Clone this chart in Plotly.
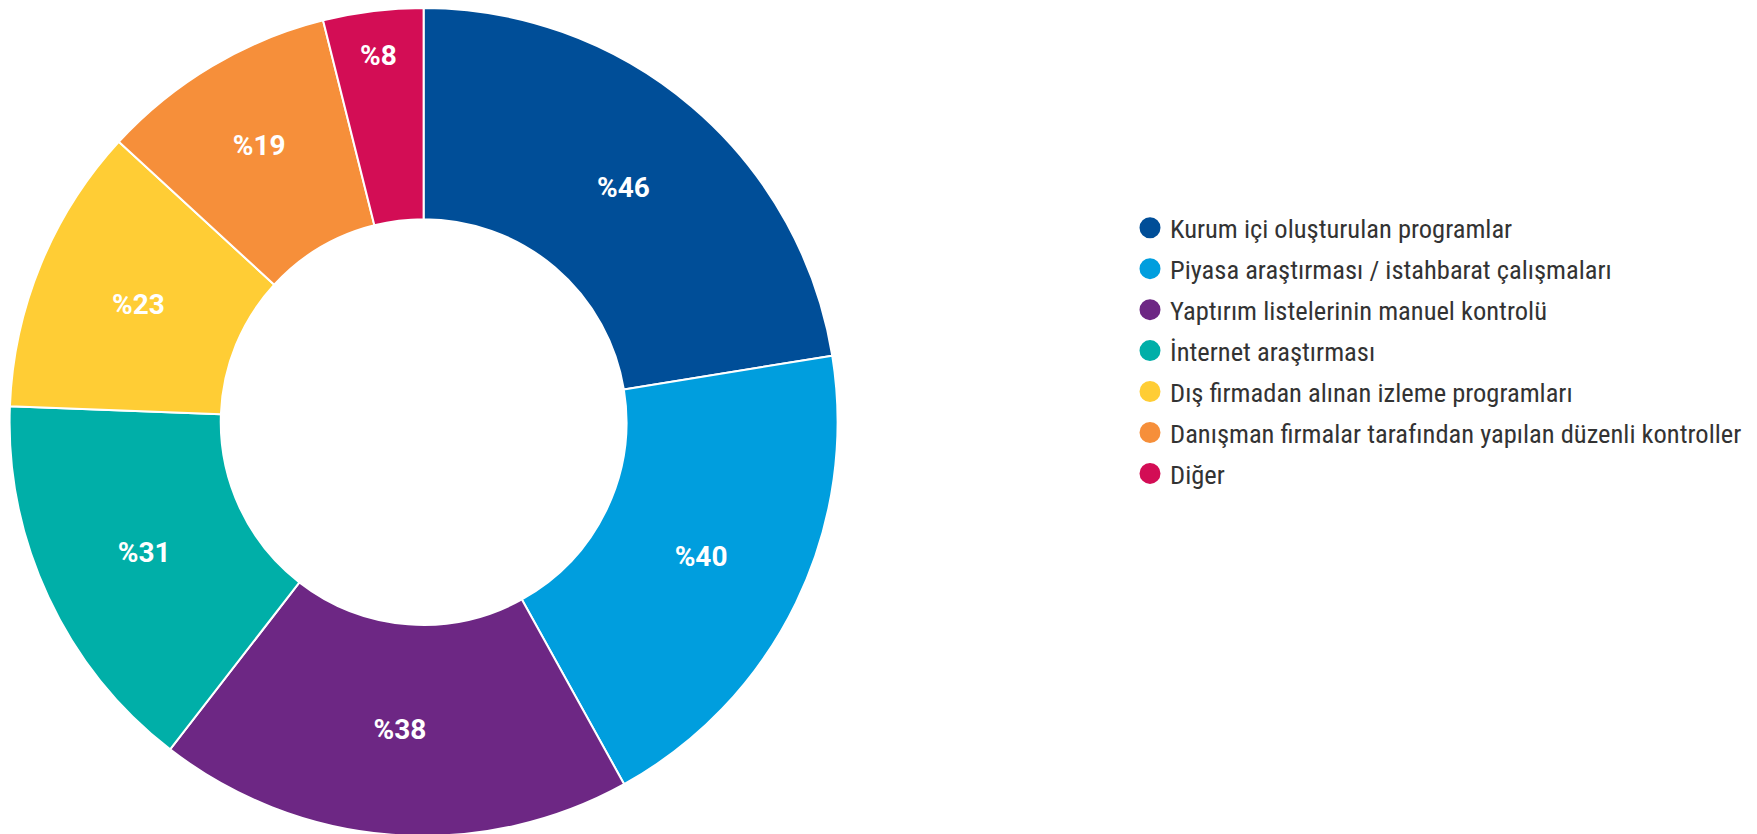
import plotly.graph_objects as go

labels = [
    "Kurum içi oluşturulan programlar",
    "Piyasa araştırması / istahbarat çalışmaları",
    "Yaptırım listelerinin manuel kontrolü",
    "İnternet araştırması",
    "Dış firmadan alınan izleme programları",
    "Danışman firmalar tarafından yapılan düzenli kontroller",
    "Diğer",
]
values = [46, 40, 38, 31, 23, 19, 8]
colors = ["#004E98", "#009EDE", "#6D2784", "#00AFA8", "#FFCD35", "#F68F3A", "#D30D55"]
text_labels = [f"%{v}" for v in values]

W, H = 1757, 834
fig = go.Figure()
fig.add_trace(go.Pie(
    labels=labels, values=values, text=text_labels, textinfo="text",
    hole=0.49, sort=False, direction="clockwise", rotation=0,
    marker=dict(colors=colors, line=dict(color="white", width=2)),
    textposition="inside", insidetextorientation="horizontal",
    textfont=dict(family="Roboto", size=28, color="white", weight="bold"),
    showlegend=False, hoverinfo="label+value",
    domain=dict(x=[1.6 / W, 829.6 / W], y=[6 / H, 1]),
))
for lab, col in zip(labels, colors):
    fig.add_trace(go.Scatter(
        x=[None], y=[None], mode="markers", name=lab, legendgroup=lab,
        marker=dict(symbol="circle", size=16, color=col, line=dict(color=col, width=5)),
    ))

fig.update_layout(
    width=W, height=H,
    margin=dict(l=0, r=0, t=0, b=0),
    paper_bgcolor="white", plot_bgcolor="white",
    xaxis=dict(visible=False), yaxis=dict(visible=False),
    legend=dict(
        x=1122 / W, y=1 - 196 / H, xanchor="left", yanchor="top",
        font=dict(family="Roboto Condensed, Roboto", size=26.5, color="#333333"),
        tracegroupgap=3.5, itemsizing="trace", bgcolor="rgba(0,0,0,0)",
    ),
)
fig.write_html("out.html")
